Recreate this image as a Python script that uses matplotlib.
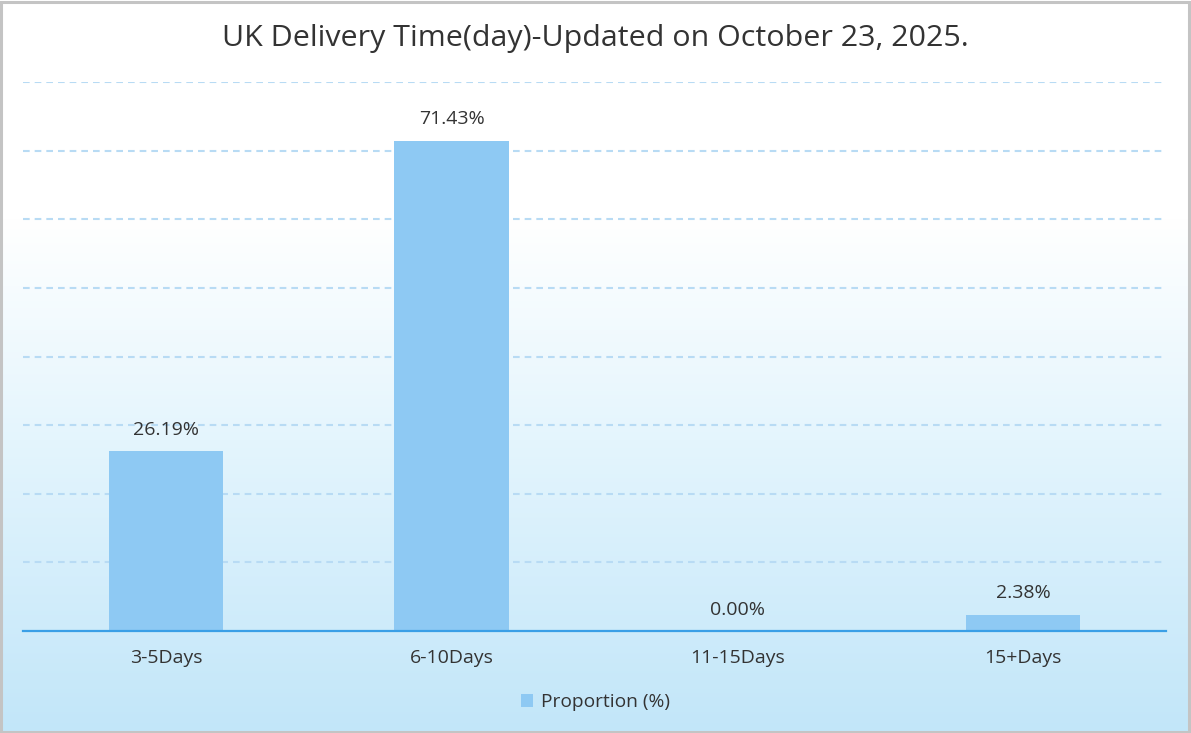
import matplotlib.pyplot as plt
import numpy as np
from matplotlib.colors import LinearSegmentedColormap
from matplotlib.patches import Rectangle

plt.rcParams['font.family'] = ['Open Sans', 'DejaVu Sans']

categorias = ["3-5Days", "6-10Days", "11-15Days", "15+Days"]
proporcion = [26.19, 71.43, 0.00, 2.38]
etiquetas = ["26.19%", "71.43%", "0.00%", "2.38%"]
titulo = "UK Delivery Time(day)-Updated on October 23, 2025."
leyenda = "Proportion (%)"

color_barra = "#8EC9F3"
color_texto = "#333333"

fig = plt.figure(figsize=(11.91, 7.33), dpi=100)

# fondo degradado blanco -> celeste
fondo = fig.add_axes([0, 0, 1, 1], zorder=-10)
cmap = LinearSegmentedColormap.from_list(
    "fondo", [(0.0, "#FFFFFF"), (0.3, "#FFFFFF"), (0.6, "#E4F5FD"), (1.0, "#C2E6F9")])
grad = np.linspace(0, 1, 256).reshape(-1, 1)
fondo.imshow(grad, aspect="auto", cmap=cmap, extent=[0, 1, 0, 1], origin="upper")
fondo.axis("off")
fig.patches.append(Rectangle((0.001, 0.002), 0.997, 0.995, transform=fig.transFigure,
                             fill=False, edgecolor="#C4C4C4", linewidth=2.2))

ax = fig.add_axes([23 / 1191, 102 / 733, 1143 / 1191, 549 / 733])
ax.patch.set_alpha(0)

x = np.arange(len(categorias))
barras = ax.bar(x, proporcion, width=0.4, color=color_barra, label=leyenda, zorder=3)
for xi, v, t in zip(x, proporcion, etiquetas):
    ax.text(xi, v + 1.8, t, ha="center", va="bottom", fontsize=14, color=color_texto)

ax.set_xlim(-0.5, 3.5)
ax.set_ylim(0, 80)
ax.set_yticks(np.arange(10, 81, 10))
ax.yaxis.grid(True, color="#B8DBF4", linestyle=(0, (3.2, 2.4)), linewidth=1.5, zorder=0)
ax.tick_params(axis="y", left=False, labelleft=False)
ax.set_xticks(x)
ax.set_xticklabels(categorias, fontsize=14, color=color_texto)
ax.tick_params(axis="x", length=0, pad=13)
for s in ["top", "right", "left"]:
    ax.spines[s].set_visible(False)
ax.spines["bottom"].set_color("#3A9FE6")
ax.spines["bottom"].set_linewidth(1.6)
ax.spines["bottom"].set_zorder(4)

fig.text(0.5, 0.948, titulo, ha="center", va="center", fontsize=21.9, color=color_texto)

fig.legend(handles=[barras], labels=[leyenda], loc="center", bbox_to_anchor=(0.5, 1 - 702 / 733),
           frameon=False, fontsize=13.8, handlelength=0.65, handleheight=0.65,
           handletextpad=0.4, labelcolor=color_texto)

fig.savefig("out.png", dpi=100)
